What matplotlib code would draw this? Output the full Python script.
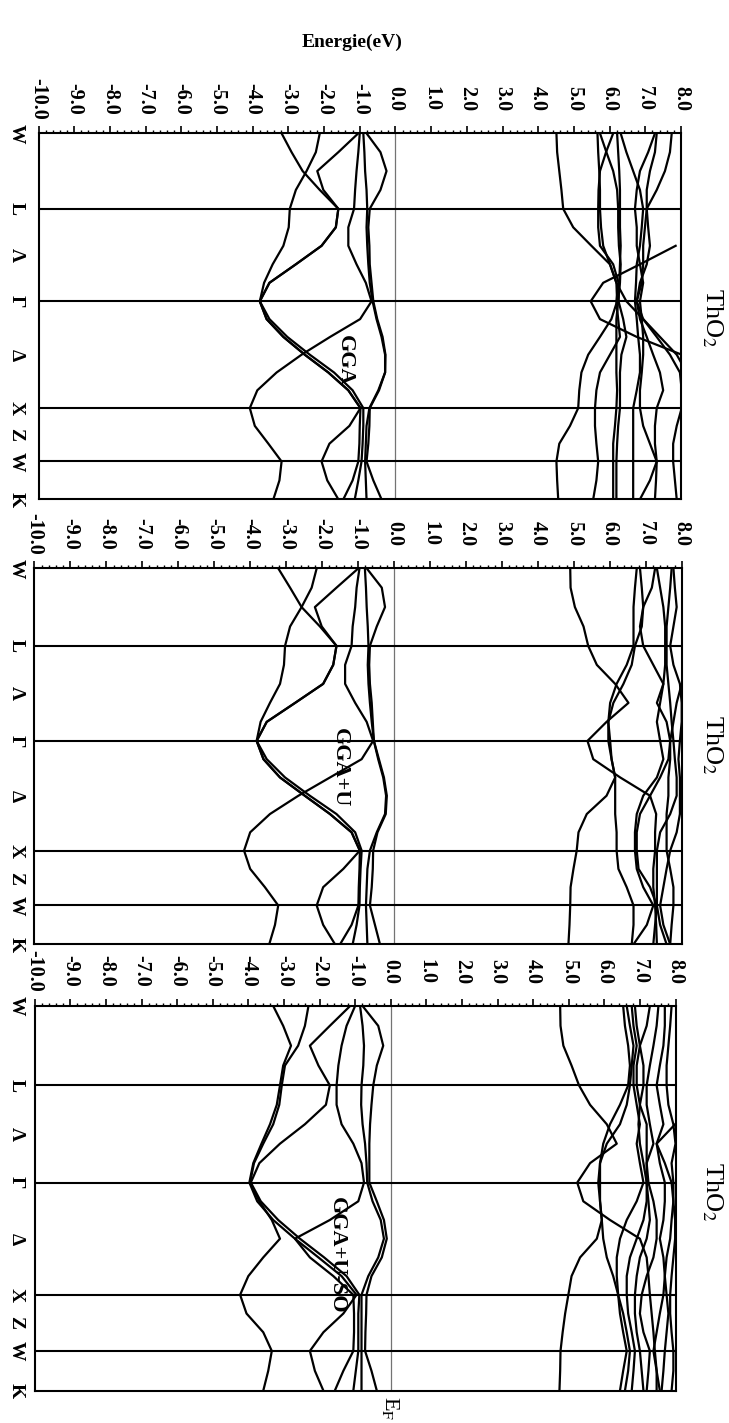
import numpy as np
import matplotlib.pyplot as plt
from matplotlib.ticker import MultipleLocator
from matplotlib.transforms import blended_transform_factory

plt.rcParams['font.family'] = ['Liberation Serif', 'DejaVu Serif']
plt.rcParams['mathtext.fontset'] = 'stix'

nan = np.nan

# high-symmetry points of the fcc path (2pi/a units)
sym_labels = ['W', 'L', 'Λ', 'Γ', 'Δ', 'X', 'Z', 'W', 'K']
sym_pos = [0.0, 0.707, 1.140, 1.573, 2.073, 2.573, 2.823, 3.073, 3.427]
sym_lines = [0.707, 1.573, 2.573, 3.073]
seg_ends = [0.0, 0.707, 1.573, 2.573, 3.073, 3.427]
seg_steps = [4, 5, 6, 3, 2]

energy_ticks = np.arange(-10, 9, 1)
energy_labels = ['%.1f' % e for e in energy_ticks]

# GGA bands (eV) read at the k grid
gga_vb = [
    [-3.19, -2.91, -2.60, -2.12, -1.60, -1.67, -2.07, -2.79, -3.53, -3.80, -3.61, -3.14, -2.54, -1.88, -1.32, -0.98, -1.29, -1.85, -2.07, -1.91, -1.60],
    [-2.12, -2.23, -2.49, -2.79, -2.96, -2.99, -3.14, -3.44, -3.68, -3.80, -3.53, -3.03, -2.40, -1.72, -1.20, -0.90, -0.90, -0.92, -0.95, -1.04, -1.14],
    [-1.04, -1.60, -2.19, -2.02, -1.60, -1.67, -2.07, -2.79, -3.53, -3.80, -3.61, -3.14, -2.54, -1.88, -1.32, -0.98, -1.00, -1.01, -1.04, -1.20, -1.46],
    [-1.00, -1.04, -1.09, -1.13, -1.16, -1.32, -1.32, -1.09, -0.83, -0.67, -0.99, -1.83, -2.63, -3.33, -3.87, -4.08, -3.94, -3.56, -3.19, -3.25, -3.42],
    [-0.90, -0.87, -0.85, -0.81, -0.79, -0.81, -0.79, -0.76, -0.72, -0.64, -0.53, -0.39, -0.29, -0.29, -0.48, -0.73, -0.81, -0.83, -0.85, -0.83, -0.81],
    [-0.81, -0.42, -0.25, -0.42, -0.72, -0.76, -0.73, -0.72, -0.67, -0.62, -0.51, -0.36, -0.28, -0.29, -0.46, -0.72, -0.73, -0.76, -0.81, -0.62, -0.39],
]
gga_cb = [
    [4.51, 4.53, 4.59, 4.65, 4.70, 4.98, 5.49, 6.01, 6.19, 6.47, 6.94, 7.41, 7.88, 8.16, nan, nan, nan, nan, nan, nan, nan],
    [nan, nan, nan, nan, nan, nan, 7.85, 6.85, 5.82, 5.47, 5.73, 6.76, 8.02, nan, nan, nan, nan, nan, nan, nan, nan],
    [5.66, 5.68, 5.71, 5.73, 5.73, 5.76, 5.82, 6.01, 6.19, 6.21, 6.05, 5.73, 5.40, 5.21, 5.15, 5.12, 4.89, 4.59, 4.51, 4.53, 4.56],
    [6.10, 5.90, 5.73, 5.69, 5.68, 5.68, 5.73, 6.10, 6.25, 6.19, 6.24, 6.29, 6.01, 5.73, 5.63, 5.59, 5.59, 5.63, 5.68, 5.63, 5.54],
    [5.73, 5.91, 6.10, 6.21, 6.24, 6.24, 6.26, 6.31, 6.29, 6.24, 6.19, 6.19, 6.19, 6.19, 6.21, 6.19, 6.15, 6.10, 6.10, 6.10, 6.10],
    [6.21, 6.24, 6.27, 6.29, 6.29, 6.29, 6.31, 6.29, 6.27, 6.25, 6.38, 6.47, 6.33, 6.29, 6.29, 6.29, 6.24, 6.21, 6.19, 6.19, 6.19],
    [6.31, 6.47, 6.66, 6.85, 6.94, 6.90, 6.85, 6.76, 6.74, 6.71, 6.76, 6.80, 6.85, 6.85, 6.76, 6.66, 6.66, 6.66, 6.66, 6.66, 6.66],
    [7.27, 7.08, 6.85, 6.76, 6.71, 6.76, 6.76, 6.85, 6.94, 6.85, 6.90, 6.94, 6.94, 6.90, 6.85, 6.85, 6.94, 7.13, 7.32, 7.13, 6.85],
    [7.32, 7.27, 7.13, 7.04, 7.04, 6.99, 6.94, 6.94, 6.90, 6.76, 6.85, 7.04, 7.22, 7.41, 7.50, 7.32, 7.27, 7.27, 7.32, 7.30, 7.27],
    [7.74, 7.69, 7.55, 7.32, 7.04, 7.08, 7.13, 7.04, 6.85, 6.76, 6.94, 7.32, 7.69, 7.97, 8.02, 8.02, 7.88, 7.78, 7.78, 7.83, 7.88],
]

# GGA+U bands
ggau_vb = [
    [-3.22, -2.89, -2.57, -2.06, -1.60, -1.69, -1.97, -2.75, -3.54, -3.82, -3.63, -3.17, -2.48, -1.78, -1.18, -0.95, -1.41, -1.97, -2.15, -1.97, -1.64],
    [-2.15, -2.29, -2.57, -2.89, -3.03, -3.06, -3.17, -3.45, -3.71, -3.82, -3.54, -3.03, -2.34, -1.60, -1.08, -0.90, -0.93, -0.95, -0.96, -1.04, -1.15],
    [-0.99, -1.60, -2.20, -2.01, -1.60, -1.69, -1.97, -2.75, -3.54, -3.82, -3.63, -3.17, -2.48, -1.78, -1.18, -0.95, -0.96, -0.98, -0.99, -1.18, -1.50],
    [-0.96, -1.04, -1.08, -1.15, -1.18, -1.36, -1.36, -1.08, -0.76, -0.58, -0.90, -1.78, -2.66, -3.45, -4.00, -4.17, -4.00, -3.59, -3.22, -3.31, -3.47],
    [-0.81, -0.78, -0.76, -0.73, -0.71, -0.73, -0.71, -0.67, -0.62, -0.56, -0.44, -0.30, -0.22, -0.25, -0.48, -0.67, -0.74, -0.76, -0.78, -0.76, -0.74],
    [-0.76, -0.34, -0.25, -0.48, -0.67, -0.69, -0.67, -0.62, -0.59, -0.56, -0.42, -0.28, -0.20, -0.23, -0.46, -0.58, -0.59, -0.62, -0.67, -0.53, -0.39],
]
ggau_cb = [
    [4.90, 4.91, 5.03, 5.27, 5.40, 5.64, 6.15, 6.52, 5.91, 5.38, 5.54, 6.29, 7.12, 7.29, 7.26, 7.26, 7.21, 7.21, 7.26, 7.29, 7.31],
    [6.75, 6.70, 6.66, 6.66, 6.66, 6.47, 6.19, 6.01, 5.96, 5.96, 6.05, 6.15, 5.91, 5.36, 5.13, 5.08, 4.99, 4.91, 4.90, 4.88, 4.85],
    [6.84, 6.89, 6.93, 6.89, 6.70, 6.61, 6.38, 6.10, 5.96, 6.01, 6.05, 6.15, 6.15, 6.15, 6.19, 6.19, 6.24, 6.47, 6.66, 6.66, 6.61],
    [7.26, 7.17, 6.93, 6.84, 6.93, 7.21, 7.49, 7.40, 7.31, 7.40, 7.49, 7.31, 6.93, 6.75, 6.70, 6.70, 6.75, 6.93, 7.21, 7.03, 6.66],
    [7.31, 7.40, 7.49, 7.54, 7.54, 7.54, 7.49, 7.31, 7.58, 7.68, 7.63, 7.40, 7.12, 6.84, 6.75, 6.75, 6.80, 7.12, 7.31, 7.26, 7.21],
    [7.72, 7.68, 7.63, 7.58, 7.58, 7.58, 7.63, 7.68, 7.72, 7.77, 7.81, 7.86, 7.86, 7.68, 7.40, 7.31, 7.31, 7.31, 7.31, 7.40, 7.58],
    [7.77, 7.81, 7.86, 7.77, 7.68, 7.77, 7.95, 8.00, 8.00, 7.95, 7.91, 7.95, 7.95, 7.95, 7.86, 7.68, 7.58, 7.49, 7.40, 7.49, 7.68],
    [nan, nan, nan, nan, nan, nan, 8.00, 7.86, 7.77, 7.68, 7.68, 7.63, 7.63, 7.58, 7.58, 7.58, 7.68, 7.77, 7.77, 7.72, 7.68],
]

# GGA+U+SO bands
ggauso_vb = [
    [-3.30, -3.02, -2.80, -3.02, -3.11, -3.20, -3.39, -3.63, -3.86, -3.97, -3.75, -3.30, -2.69, -2.03, -1.38, -0.96, -1.33, -1.89, -2.27, -2.13, -1.89],
    [-2.31, -2.41, -2.60, -2.97, -3.06, -3.13, -3.30, -3.58, -3.84, -3.95, -3.69, -3.34, -3.11, -3.58, -4.00, -4.23, -4.05, -3.58, -3.34, -3.44, -3.58],
    [-1.14, -1.71, -2.27, -2.03, -1.71, -1.82, -2.41, -3.11, -3.69, -3.93, -3.65, -3.16, -2.55, -1.87, -1.24, -0.88, -0.91, -0.91, -0.91, -0.98, -1.05],
    [-1.00, -1.24, -1.38, -1.47, -1.52, -1.52, -1.38, -1.05, -0.82, -0.75, -0.91, -1.71, -2.69, -2.27, -1.61, -1.05, -1.03, -1.03, -1.05, -1.33, -1.57],
    [-0.86, -0.79, -0.75, -0.77, -0.82, -0.83, -0.79, -0.72, -0.68, -0.66, -0.51, -0.28, -0.19, -0.35, -0.63, -0.82, -0.82, -0.82, -0.82, -0.82, -0.82],
    [-0.79, -0.35, -0.21, -0.39, -0.49, -0.54, -0.58, -0.60, -0.60, -0.60, -0.39, -0.19, -0.11, -0.25, -0.54, -0.68, -0.69, -0.71, -0.72, -0.54, -0.39],
]
ggauso_cb = [
    [4.76, 4.77, 4.85, 5.08, 5.29, 5.60, 6.07, 6.35, 5.60, 5.24, 5.41, 6.16, 7.00, 7.19, 7.24, 7.28, 7.33, 7.38, 7.42, 7.47, 7.47],
    [6.53, 6.58, 6.67, 6.72, 6.67, 6.44, 6.16, 5.97, 5.88, 5.88, 5.88, 5.93, 5.79, 5.32, 5.08, 4.99, 4.90, 4.83, 4.77, 4.76, 4.74],
    [6.63, 6.72, 6.82, 6.77, 6.72, 6.63, 6.44, 6.07, 5.88, 5.83, 5.88, 5.93, 5.97, 6.07, 6.25, 6.39, 6.44, 6.53, 6.63, 6.53, 6.44],
    [6.77, 6.82, 6.91, 6.82, 6.82, 6.91, 7.00, 6.91, 7.00, 7.10, 6.91, 6.63, 6.44, 6.35, 6.35, 6.39, 6.53, 6.63, 6.72, 6.67, 6.58],
    [6.86, 6.91, 7.00, 7.10, 7.10, 7.00, 6.96, 7.00, 7.10, 7.19, 7.19, 7.10, 6.91, 6.72, 6.63, 6.63, 6.67, 6.77, 6.86, 6.82, 6.77],
    [7.28, 7.19, 7.00, 6.91, 6.91, 7.00, 7.19, 7.19, 7.19, 7.19, 7.24, 7.28, 7.19, 7.00, 6.91, 6.86, 6.86, 6.91, 7.00, 7.05, 7.10],
    [7.52, 7.47, 7.38, 7.28, 7.19, 7.19, 7.28, 7.38, 7.19, 7.24, 7.38, 7.47, 7.47, 7.38, 7.19, 7.05, 7.00, 7.10, 7.28, 7.24, 7.19],
    [7.70, 7.70, 7.66, 7.56, 7.47, 7.56, 7.66, 7.47, 7.56, 7.70, 7.70, 7.66, 7.56, 7.66, 7.70, 7.66, 7.56, 7.47, 7.38, 7.47, 7.56],
    [7.89, 7.85, 7.80, 7.75, 7.75, 7.80, 7.94, 8.00, 7.89, 7.94, 7.94, 7.89, 7.85, 7.75, 7.70, 7.75, 7.80, 7.75, 7.70, 7.66, 7.61],
    [nan, nan, nan, nan, nan, nan, 7.99, 7.47, 7.70, 7.89, 7.94, 7.99, 7.99, 7.94, 7.89, 7.85, 7.85, 7.89, 7.94, 7.94, 7.89],
]

method_labels = ['GGA', 'GGA+U', 'GGA+U-SO']

# k grid on which the bands were read
k = np.concatenate([np.linspace(a, b, n, endpoint=False)
                    for a, b, n in zip(seg_ends[:-1], seg_ends[1:], seg_steps)] + [[seg_ends[-1]]])

W, H = 729, 1423
fig = plt.figure(figsize=(W / 100, H / 100), dpi=100)

# panel frames in pixels: left, right, top, bottom
frames = [(38.5, 681.0, 133.3, 499.3),
          (34.4, 681.7, 568.3, 944.3),
          (34.7, 675.5, 1006.0, 1390.7)]
method_pos = [(345, 360), (340, 768), (337, 1255)]
tho2_pos = [318, 745, 1192]

panels = [(gga_vb, gga_cb), (ggau_vb, ggau_cb), (ggauso_vb, ggauso_cb)]

for i, ((vb, cb), (l, r, t, b)) in enumerate(zip(panels, frames)):
    ax = fig.add_axes([l / W, 1 - b / H, (r - l) / W, (b - t) / H])
    for band in vb + cb:
        ax.plot(band, k, color='black', lw=1.6, solid_joinstyle='round')
    ax.axvline(0, color='0.45', lw=0.9)
    for kv in sym_lines:
        ax.axhline(kv, color='black', lw=1.5)
    ax.set_xlim(-10, 8)
    ax.set_ylim(seg_ends[-1], 0)

    ax.xaxis.tick_top()
    ax.set_xticks(energy_ticks)
    ax.set_xticklabels(energy_labels, rotation=-90, va='center', ha='center',
                       fontsize=14.5, fontweight='bold')
    ax.xaxis.set_minor_locator(MultipleLocator(0.2))
    ax.tick_params(axis='x', which='major', direction='out', length=5, width=1.2, pad=20)
    ax.tick_params(axis='x', which='minor', direction='out', length=2.5, width=1.0)
    ax.set_yticks([])
    for s in ax.spines.values():
        s.set_linewidth(1.5)

    trans = blended_transform_factory(ax.transAxes, ax.transData)
    for lab, kp in zip(sym_labels, sym_pos):
        ax.text((16 - l) / (r - l), kp, lab, transform=trans, rotation=-90,
                ha='center', va='center', fontsize=14, fontweight='bold')

    mx, my = method_pos[i]
    fig.text(mx / W, 1 - my / H, method_labels[i], rotation=-90, ha='center', va='center',
             fontsize=16, fontweight='bold')
    fig.text(712 / W, 1 - tho2_pos[i] / H, 'ThO$_2$', rotation=-90, ha='center', va='center',
             fontsize=19)

fig.text(352 / W, 1 - 42 / H, 'Energie(eV)', ha='center', va='center', fontsize=14, fontweight='bold')
fig.text(390 / W, 1 - 1408 / H, 'E$_\\mathrm{F}$', rotation=-90, ha='center', va='center', fontsize=16)

fig.savefig('out.png', dpi=100)
